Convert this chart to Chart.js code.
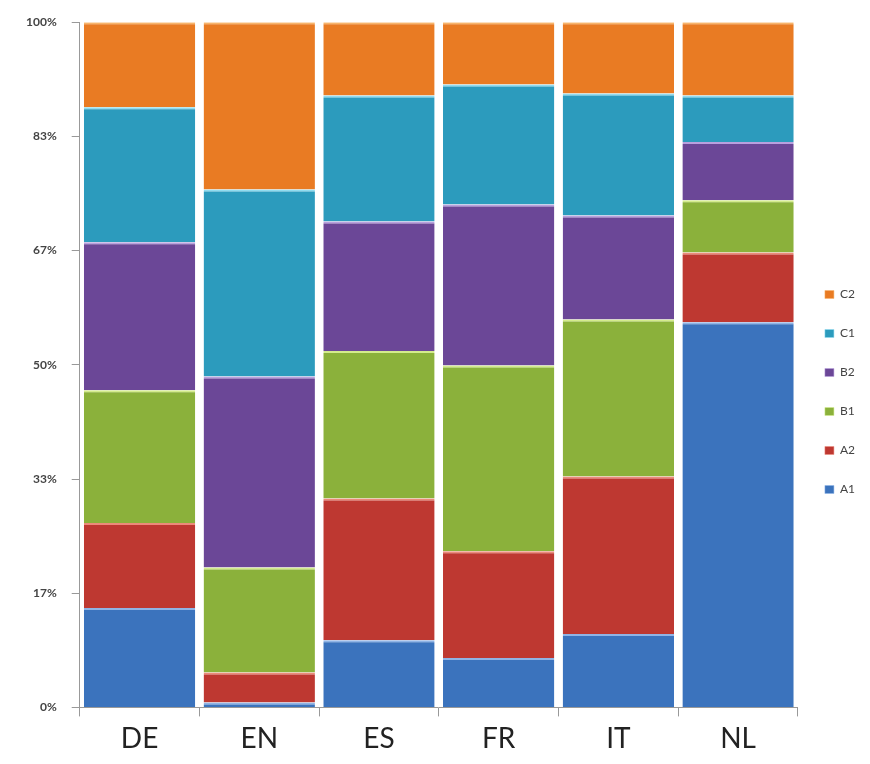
<!DOCTYPE html>
<html>
<head>
<meta charset="utf-8">
<script src="https://cdn.jsdelivr.net/npm/chart.js@4"></script>
<style>
  html, body { margin: 0; padding: 0; background: #fff; }
  #wrap { width: 870px; height: 764px; }
</style>
</head>
<body>
<div id="wrap"><canvas id="levelChart"></canvas></div>
<script>
const categories = ['DE', 'EN', 'ES', 'FR', 'IT', 'NL'];
const tickLabels = ['0%', '17%', '33%', '50%', '67%', '83%', '100%'];

// share of each level per language, in percent
const a1 = [14.5, 0.7, 9.8, 7.2, 10.7, 56.2];
const a2 = [12.4, 4.4, 20.7, 15.6, 23.0, 10.2];
const b1 = [19.4, 15.3, 21.5, 27.1, 22.9, 7.6];
const b2 = [21.6, 27.9, 18.9, 23.5, 15.2, 8.5];
const c1 = [19.7, 27.3, 18.4, 17.5, 17.8, 6.8];
const c2 = [12.4, 24.4, 10.7, 9.1, 10.4, 10.7];

const levels = [
  { label: 'A1', data: a1, color: '#3b73bd', edge: '#8fb4e6' },
  { label: 'A2', data: a2, color: '#be3831', edge: '#ec8a7a' },
  { label: 'B1', data: b1, color: '#8bb13b', edge: '#d4ec8c' },
  { label: 'B2', data: b2, color: '#6b4797', edge: '#b9a0de' },
  { label: 'C1', data: c1, color: '#2c9bbd', edge: '#8fdcf0' },
  { label: 'C2', data: c2, color: '#e97b23', edge: '#f8b46a' }
];

const ctx = document.getElementById('levelChart').getContext('2d');
const levelChart = new Chart(ctx, {
  type: 'bar',
  data: {
    labels: categories,
    datasets: levels.map(l => ({
      label: l.label,
      data: l.data,
      backgroundColor: l.color,
      borderColor: l.edge,
      borderWidth: { top: 2, right: 0, bottom: 0, left: 0 },
      borderSkipped: false,
      barPercentage: 1,
      categoryPercentage: 0.93
    }))
  },
  options: {
    responsive: true,
    maintainAspectRatio: false,
    animation: false,
    layout: { padding: { top: 22, left: 11, right: 5, bottom: 2 } },
    plugins: {
      tooltip: { enabled: false },
      legend: {
        position: 'right',
        reverse: true,
        labels: {
          boxWidth: 9,
          boxHeight: 8,
          padding: 27,
          color: '#444',
          font: { family: 'Lato', size: 12 }
        }
      }
    },
    scales: {
      x: {
        stacked: true,
        grid: { offset: true, drawOnChartArea: false, tickLength: 9, color: '#999' },
        border: { color: '#999' },
        ticks: { color: '#222', padding: 6, font: { family: 'Lato', size: 28 } }
      },
      y: {
        stacked: true,
        min: 0,
        max: 100,
        afterBuildTicks: axis => {
          axis.ticks = tickLabels.map((t, i) => ({ value: i * 100 / 6 }));
        },
        grid: { drawOnChartArea: false, tickLength: 8, color: '#999' },
        border: { color: '#999' },
        ticks: {
          color: '#444',
          padding: 15,
          font: { family: 'Lato', size: 12, weight: 'bold' },
          callback: (v, i) => tickLabels[i]
        }
      }
    }
  }
});
</script>
</body>
</html>
